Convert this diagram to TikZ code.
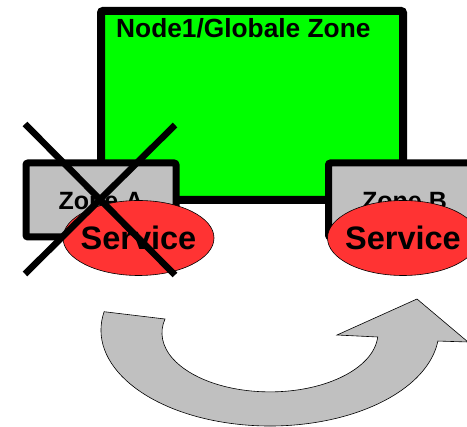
\documentclass[tikz,border=0pt]{standalone}
\usepackage{fontspec}
\setmainfont{Liberation Sans}
\usetikzlibrary{shapes.geometric}
\definecolor{zgreen}{HTML}{00FF00}
\definecolor{zgray}{HTML}{C0C0C0}
\definecolor{zred}{HTML}{FF3333}
\tikzset{
  zonebox/.style={draw=black, fill=zgray, line width=7pt, rounded corners=2pt, minimum width=150pt, minimum height=74pt, inner sep=0pt, font=\fontsize{25}{30}\selectfont\bfseries, text depth=0pt},
  svc/.style={ellipse, draw=black, fill=zred, line width=0.6pt, minimum width=151pt, minimum height=75pt, inner sep=0pt, font=\fontsize{32.5}{36}\selectfont\bfseries},
  crossline/.style={line width=6.5pt},
  bigarrow/.style={draw=black, fill=zgray, line width=0.6pt, line join=miter}
}
\begin{document}
\begin{tikzpicture}[x=1pt,y=1pt]
\useasboundingbox (0,0) rectangle (467,-427);
\clip (0,0) rectangle (467,-427);
\node[draw=black, fill=zgreen, line width=8pt, rounded corners=2pt, minimum width=302pt, minimum height=189pt, inner sep=0pt] (global) at (252,-105.5) {};
\node[anchor=base west, font=\fontsize{26.3}{30}\selectfont\bfseries, inner sep=0pt] (title) at (116,-37.5) {Node1/Globale Zone};
\node[zonebox, anchor=center] (zoneA) at (101,-200) {\raisebox{-2pt}{Zone A}};
\node[zonebox, minimum width=152pt] (zoneB) at (404.5,-200) {\raisebox{-2pt}{Zone B}};
\node[svc] (svcA) at (138.5,-238) {\makebox[0pt]{Service}};
\node[svc] (svcB) at (403,-238) {\makebox[0pt]{Service}};
\coordinate (xa1) at (25,-124);
\coordinate (xa2) at (175,-275);
\coordinate (xb1) at (175,-125);
\coordinate (xb2) at (25,-274);
\draw[crossline] (xa1) -- (xa2);
\draw[crossline] (xb1) -- (xb2);
\path[bigarrow] (104.1,-311.7) arc[start angle=169, end angle=353.4, x radius=169, y radius=96]
  -- (468,-342) -- (417,-299) -- (337,-335) -- (377.7,-337)
  arc[start angle=356, end angle=166.4, x radius=108, y radius=59] -- cycle;
\end{tikzpicture}
\end{document}
